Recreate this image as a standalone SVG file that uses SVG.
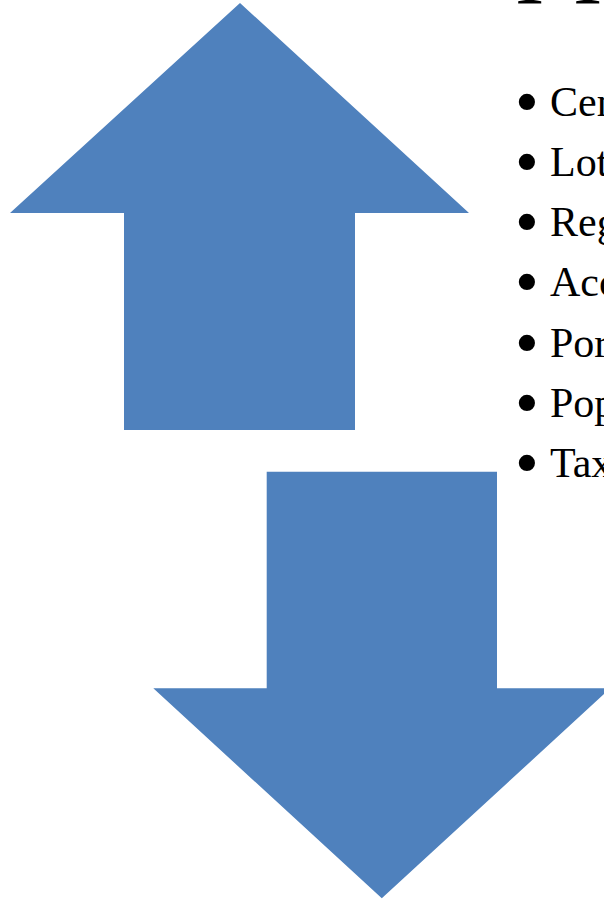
<svg xmlns="http://www.w3.org/2000/svg" width="604" height="900" viewBox="0 0 604 900">
  <style>
    .arrow { fill: #4F81BD; }
    .item { font-family: "Liberation Serif", "Times New Roman", serif; font-size: 42px; fill: #000; }
    .dot { font-size: 68px; }
    .title { font-family: "Liberation Serif", "Times New Roman", serif; font-size: 88px; fill: #000; }
  </style>
  <rect width="604" height="900" fill="#fff"/>

  <!-- heading, mostly above the top edge -->
  <g id="title">
    <text class="title" y="3"><tspan x="515">I</tspan><tspan x="573">I</tspan></text>
  </g>

  <!-- upward arrow -->
  <g id="arrow-up">
    <polygon class="arrow" points="240,3 469,213 355,213 355,430 124,430 124,213 10,213"/>
  </g>

  <!-- downward arrow -->
  <g id="arrow-down">
    <polygon class="arrow" points="266.7,471.7 497,471.7 497,688.3 610.3,688.3 381.8,898.3 153.3,688.3 266.7,688.3"/>
  </g>

  <!-- bullet list: each line is one text with a larger bullet glyph -->
  <g id="list">
    <text class="item" y="116"><tspan class="dot" x="515" dy="8">•</tspan><tspan x="550" dy="-8">Cen</tspan></text>
    <text class="item" y="176"><tspan class="dot" x="515" dy="8">•</tspan><tspan x="550" dy="-8">Lot</tspan></text>
    <text class="item" y="236"><tspan class="dot" x="515" dy="8">•</tspan><tspan x="550" dy="-8">Reg</tspan></text>
    <text class="item" y="296"><tspan class="dot" x="515" dy="8">•</tspan><tspan x="550" dy="-8">Acc</tspan></text>
    <text class="item" y="357"><tspan class="dot" x="515" dy="8">•</tspan><tspan x="550" dy="-8">Por</tspan></text>
    <text class="item" y="417"><tspan class="dot" x="515" dy="8">•</tspan><tspan x="550" dy="-8">Pop</tspan></text>
    <text class="item" y="477"><tspan class="dot" x="515" dy="8">•</tspan><tspan x="550" dy="-8">Tax</tspan></text>
  </g>

  <g id="connectors"/>
</svg>
